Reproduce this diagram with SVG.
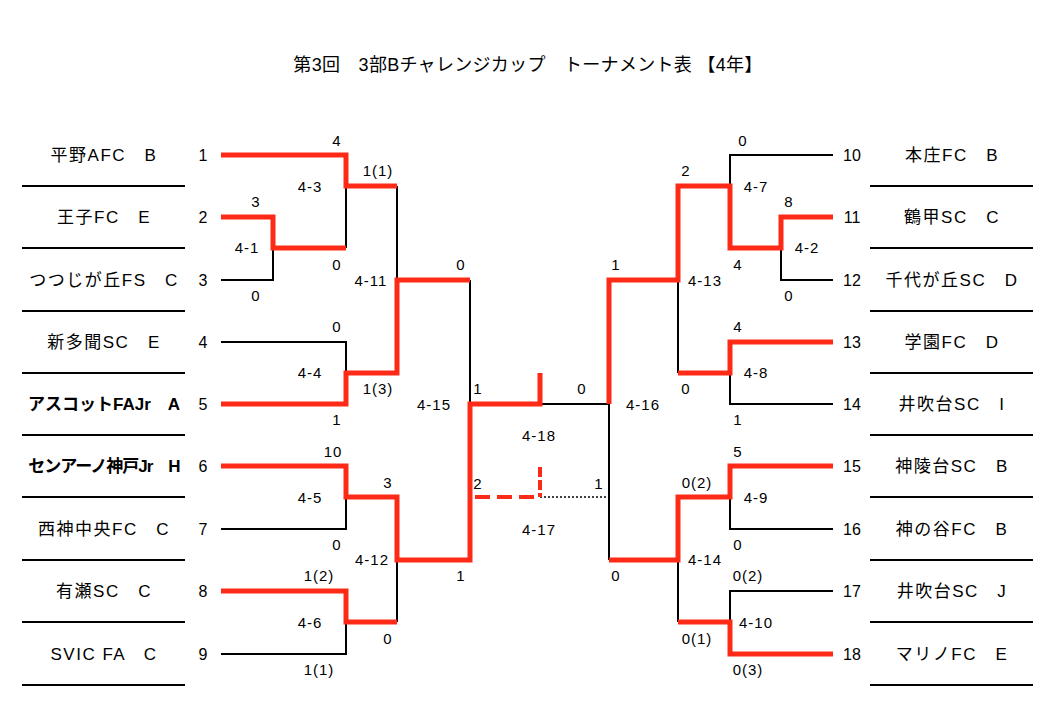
<svg xmlns="http://www.w3.org/2000/svg" width="1059" height="709" viewBox="0 0 1059 709">
<style>
.bg{fill:#ffffff}
.title{font-family:"Liberation Sans","Noto Sans CJK JP",sans-serif;font-size:18px;fill:#000;text-anchor:middle;letter-spacing:0.3px}
.name{font-family:"Liberation Sans","Noto Sans CJK JP",sans-serif;font-size:17px;fill:#000;text-anchor:middle;letter-spacing:1.5px}
.bold{font-weight:bold;letter-spacing:0px}
.tight{letter-spacing:-1px}
.num{font-family:"Liberation Sans","Noto Sans CJK JP",sans-serif;font-size:16px;fill:#000;text-anchor:middle}
.sc{font-family:"Liberation Sans","Noto Sans CJK JP",sans-serif;font-size:15px;fill:#000;text-anchor:middle;letter-spacing:1px}
.sep{stroke:#000;stroke-width:2;fill:none}
.blk{stroke:#000;stroke-width:2;fill:none}
.red{stroke:#fd2a17;stroke-width:5;fill:none;stroke-linejoin:miter}
.reddash{stroke:#fd2a17;stroke-width:4;fill:none;stroke-dasharray:15 7}
.redstub{stroke:#fd2a17;stroke-width:4;fill:none;stroke-dasharray:10 3}
.dot{stroke:#000;stroke-width:1.5;fill:none;stroke-dasharray:2 2}
</style>
<rect class="bg" x="0" y="0" width="1059" height="709"/>
<text id="title" class="title" x="528" y="71">第3回　3部Bチャレンジカップ　トーナメント表 【4年】</text>

<g id="separators">
<path class="sep" d="M22,186H185M22,248H185M22,311H185M22,373H185M22,435H185M22,497H185M22,560H185M22,622H185M22,685H185"/>
<path class="sep" d="M870,186H1033M870,248H1033M870,311H1033M870,373H1033M870,435H1033M870,497H1033M870,560H1033M870,622H1033M870,685H1033"/>
</g>

<g id="team1"><text class="name" x="104" y="161">平野AFC　B</text><text class="num" x="203" y="161">1</text></g>
<g id="team2"><text class="name" x="104" y="223">王子FC　E</text><text class="num" x="203" y="223">2</text></g>
<g id="team3"><text class="name" x="104" y="286">つつじが丘FS　C</text><text class="num" x="203" y="286">3</text></g>
<g id="team4"><text class="name" x="104" y="348">新多聞SC　E</text><text class="num" x="203" y="348">4</text></g>
<g id="team5"><text class="name bold" x="104" y="410">アスコットFAJr　A</text><text class="num" x="203" y="410">5</text></g>
<g id="team6"><text class="name bold tight" x="104" y="472">センアーノ神戸Jr　H</text><text class="num" x="203" y="472">6</text></g>
<g id="team7"><text class="name" x="104" y="535">西神中央FC　C</text><text class="num" x="203" y="535">7</text></g>
<g id="team8"><text class="name" x="104" y="597">有瀬SC　C</text><text class="num" x="203" y="597">8</text></g>
<g id="team9"><text class="name" x="104" y="660">SVIC FA　C</text><text class="num" x="203" y="660">9</text></g>

<g id="team10"><text class="name" x="952" y="161">本庄FC　B</text><text class="num" x="852" y="161">10</text></g>
<g id="team11"><text class="name" x="952" y="223">鶴甲SC　C</text><text class="num" x="852" y="223">11</text></g>
<g id="team12"><text class="name" x="952" y="286">千代が丘SC　D</text><text class="num" x="852" y="286">12</text></g>
<g id="team13"><text class="name" x="952" y="348">学園FC　D</text><text class="num" x="852" y="348">13</text></g>
<g id="team14"><text class="name" x="952" y="410">井吹台SC　I</text><text class="num" x="852" y="410">14</text></g>
<g id="team15"><text class="name" x="952" y="472">神陵台SC　B</text><text class="num" x="852" y="472">15</text></g>
<g id="team16"><text class="name" x="952" y="535">神の谷FC　B</text><text class="num" x="852" y="535">16</text></g>
<g id="team17"><text class="name" x="952" y="597">井吹台SC　J</text><text class="num" x="852" y="597">17</text></g>
<g id="team18"><text class="name" x="952" y="660">マリノFC　E</text><text class="num" x="852" y="660">18</text></g>

<g id="connectors">
<path class="blk" d="M221,280H273V248M346,186V248M221,342H346V373M397,186V280M470,280V404M221,529H346V497M221,654H346V622M397,560V622M540,404H609"/>
<path class="blk" d="M833,155H730V186M833,280H781V248M678,280V373M833,404H730V373M833,529H730V497M833,591H730V622M678,560V622M609,404V560"/>
<path class="dot" d="M540,497H609"/>
<path class="red" d="M221,155H346V186H397"/>
<path class="red" d="M221,217H273V248H346"/>
<path class="red" d="M221,404H346V373H397V280H470"/>
<path class="red" d="M221,466H346V497H397V560H470V404H540V373"/>
<path class="red" d="M221,591H346V622H397"/>
<path class="red" d="M833,217H781V248H730V186H678V280H609V404"/>
<path class="red" d="M833,342H730V373H678"/>
<path class="red" d="M833,466H730V497H678V560H609"/>
<path class="red" d="M833,654H730V622H678"/>
<path class="reddash" d="M475,497H540"/>
<path class="redstub" d="M540,467V497"/>
</g>

<g id="labels">
<text class="sc" x="337" y="146">4</text>
<text class="sc" x="378" y="176">1(1)</text>
<text class="sc" x="310" y="192">4-3</text>
<text class="sc" x="256" y="207">3</text>
<text class="sc" x="247" y="253">4-1</text>
<text class="sc" x="337" y="270">0</text>
<text class="sc" x="256" y="301">0</text>
<text class="sc" x="371" y="286">4-11</text>
<text class="sc" x="461" y="270">0</text>
<text class="sc" x="337" y="332">0</text>
<text class="sc" x="310" y="378">4-4</text>
<text class="sc" x="378" y="394">1(3)</text>
<text class="sc" x="434" y="410">4-15</text>
<text class="sc" x="337" y="425">1</text>
<text class="sc" x="333" y="457">10</text>
<text class="sc" x="310" y="503">4-5</text>
<text class="sc" x="388" y="488">3</text>
<text class="sc" x="337" y="550">0</text>
<text class="sc" x="372" y="565">4-12</text>
<text class="sc" x="319" y="581">1(2)</text>
<text class="sc" x="310" y="628">4-6</text>
<text class="sc" x="388" y="644">0</text>
<text class="sc" x="319" y="675">1(1)</text>
<text class="sc" x="461" y="581">1</text>
<text class="sc" x="616" y="270">1</text>
<text class="sc" x="478" y="394">1</text>
<text class="sc" x="582" y="394">0</text>
<text class="sc" x="539" y="441">4-18</text>
<text class="sc" x="478" y="489">2</text>
<text class="sc" x="599" y="489">1</text>
<text class="sc" x="539" y="535">4-17</text>
<text class="sc" x="616" y="581">0</text>
<text class="sc" x="643" y="410">4-16</text>
<text class="sc" x="743" y="146">0</text>
<text class="sc" x="686" y="176">2</text>
<text class="sc" x="756" y="192">4-7</text>
<text class="sc" x="789" y="207">8</text>
<text class="sc" x="807" y="253">4-2</text>
<text class="sc" x="738" y="270">4</text>
<text class="sc" x="705" y="286">4-13</text>
<text class="sc" x="789" y="301">0</text>
<text class="sc" x="738" y="332">4</text>
<text class="sc" x="756" y="378">4-8</text>
<text class="sc" x="686" y="394">0</text>
<text class="sc" x="738" y="425">1</text>
<text class="sc" x="738" y="457">5</text>
<text class="sc" x="697" y="488">0(2)</text>
<text class="sc" x="756" y="503">4-9</text>
<text class="sc" x="738" y="550">0</text>
<text class="sc" x="705" y="565">4-14</text>
<text class="sc" x="748" y="581">0(2)</text>
<text class="sc" x="756" y="628">4-10</text>
<text class="sc" x="697" y="644">0(1)</text>
<text class="sc" x="748" y="675">0(3)</text>
</g>
</svg>
